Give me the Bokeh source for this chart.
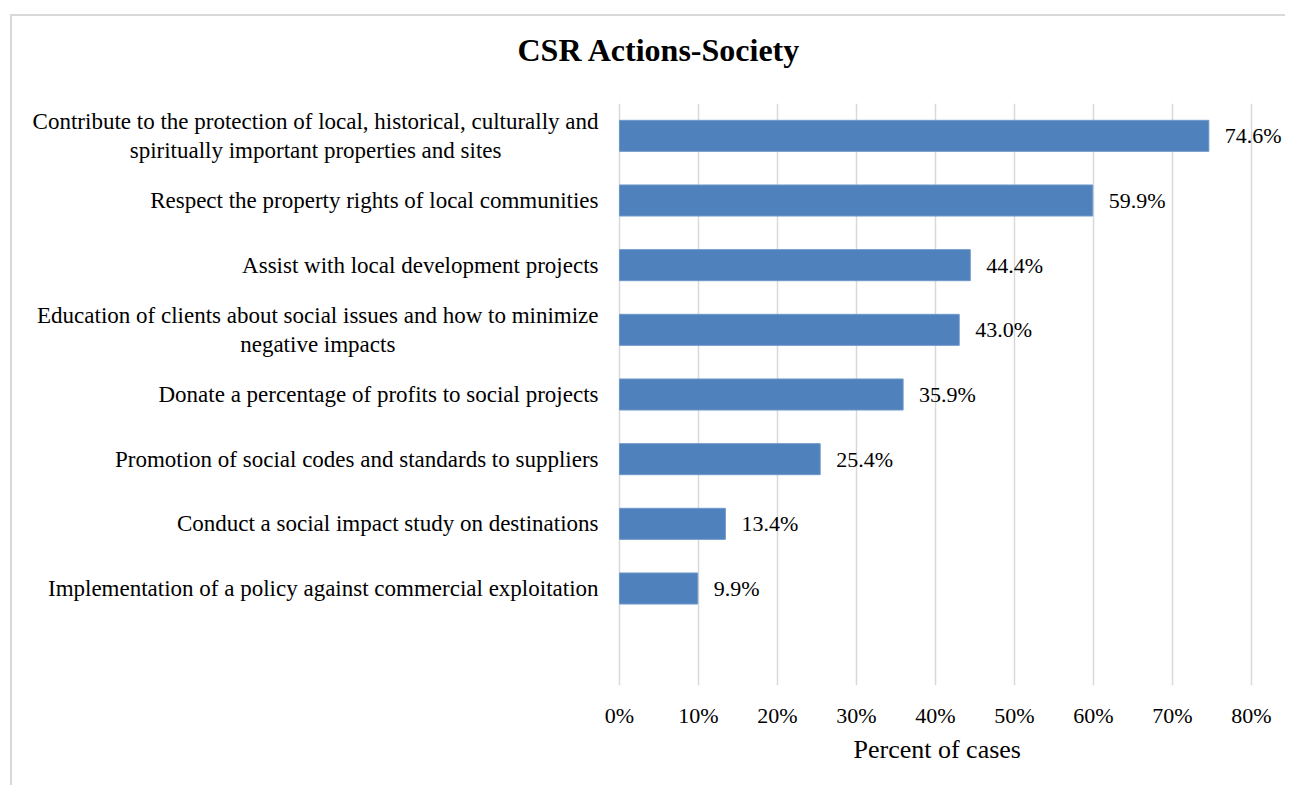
from bokeh.plotting import figure
from bokeh.models import ColumnDataSource, LabelSet, FixedTicker, NumeralTickFormatter, Title
from bokeh.embed import file_html
from bokeh.resources import INLINE

categories = [
    "Contribute to the protection of local, historical, culturally and\nspiritually important properties and sites",
    "Respect the property rights of local communities",
    "Assist with local development projects",
    "Education of clients about social issues and how to minimize\nnegative impacts",
    "Donate a percentage of profits to social projects",
    "Promotion of social codes and standards to suppliers",
    "Conduct a social impact study on destinations",
    "Implementation of a policy against commercial exploitation",
]
values = [0.746, 0.599, 0.444, 0.430, 0.359, 0.254, 0.134, 0.099]
value_labels = ["74.6%", "59.9%", "44.4%", "43.0%", "35.9%", "25.4%", "13.4%", "9.9%"]
x_ticks = [0, 0.1, 0.2, 0.3, 0.4, 0.5, 0.6, 0.7, 0.8]

n = len(categories)
ypos = [n - i for i in range(n)]  # slot 0 left empty at the bottom

FONT = "Liberation Serif"
BLUE = "#4f81bd"
GRID = "#d9d9d9"

src = ColumnDataSource(dict(y=ypos, v=values, lab=value_labels, cat=categories, base=[0] * n))

# the frame spans the full width; the category labels are drawn left of x = 0
p = figure(width=1275, height=771, output_backend="svg", toolbar_location=None,
           x_range=(-0.7684, 0.8443), y_range=(-0.5, n + 0.5), y_axis_location=None,
           min_border_left=0, min_border_right=1, min_border_top=87, min_border_bottom=102)
p.margin = (14, 0, 0, 10)
p.styles = {"border-left": "2px solid #d9d9d9", "border-top": "2px solid #d9d9d9"}
p.outline_line_color = None
p.background_fill_color = "white"
p.border_fill_color = "white"

p.hbar(y="y", right="v", left="base", height=0.48, source=src, fill_color=BLUE, line_color="#6f97c9", line_width=1)

p.text(x="base", y="y", text="cat", source=src, x_offset=-21, anchor="center_right",
       text_align="center", text_baseline="middle", text_line_height=1.17,
       text_font=FONT, text_font_size="23px", text_color="#000000")

labels = LabelSet(x="v", y="y", text="lab", source=src, x_offset=16, text_baseline="middle",
                  text_font=FONT, text_font_size="22px", text_color="#000000")
p.add_layout(labels)

p.title.text = "CSR Actions-Society"
p.title.text_font = FONT
p.title.text_font_size = "32px"
p.title.text_font_style = "bold"
p.title.align = "left"
p.title.offset = 505
p.title.standoff = 0
p.title.padding = dict(left=0, right=0, top=0, bottom=36)
p.title.text_color = "#000000"

xtitle = Title(text="Percent of cases", align="left", offset=841, standoff=5,
               text_font=FONT, text_font_size="26px", text_font_style="normal", text_color="#000000")
p.add_layout(xtitle, "below")

p.xaxis.ticker = FixedTicker(ticks=x_ticks)
p.xaxis.formatter = NumeralTickFormatter(format="0%")
p.xaxis.major_label_text_font = FONT
p.xaxis.major_label_text_font_size = "22px"
p.xaxis.major_label_text_color = "#000000"
p.xaxis.major_label_standoff = 17
p.xaxis.major_tick_out = 0
p.xaxis.major_tick_in = 0
p.xaxis.axis_line_color = None
p.xaxis.major_tick_line_color = None
p.xaxis.minor_tick_line_color = None

p.xgrid.ticker = FixedTicker(ticks=x_ticks)
p.xgrid.grid_line_color = GRID
p.xgrid.grid_line_width = 1.5
p.ygrid.grid_line_color = None

open("out.html", "w").write(file_html(p, INLINE))
